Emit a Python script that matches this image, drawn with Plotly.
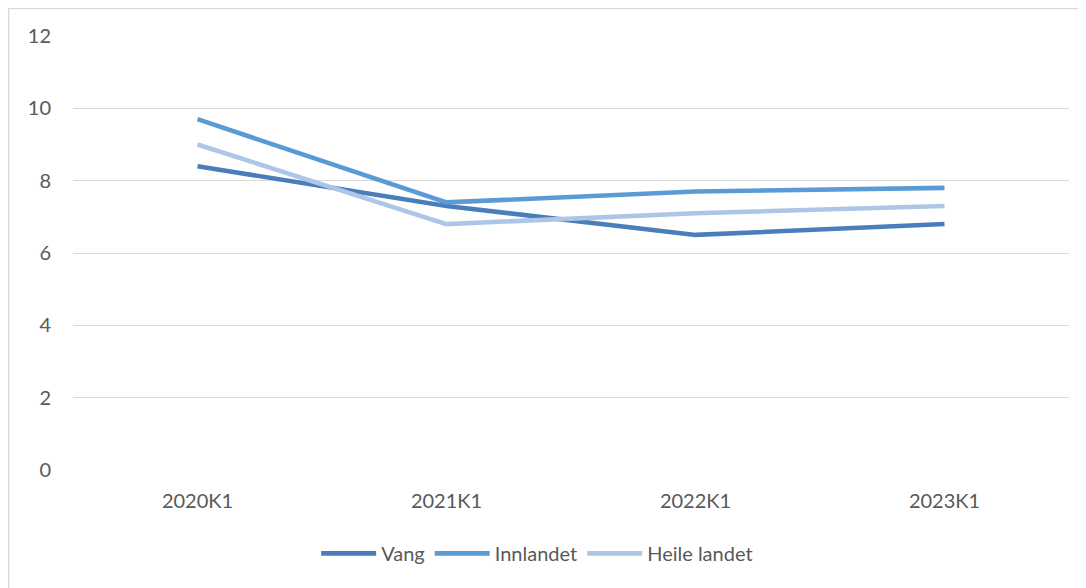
import plotly.graph_objects as go

categories = ["2020K1", "2021K1", "2022K1", "2023K1"]
vang = [8.4, 7.3, 6.5, 6.8]
innlandet = [9.7, 7.4, 7.7, 7.8]
heile_landet = [9.0, 6.8, 7.1, 7.3]

series_names = ["Vang", "Innlandet", "Heile landet"]
series_values = [vang, innlandet, heile_landet]
series_colors = ["#4A7EBB", "#5B9BD5", "#ADC6E7"]

y_ticks = [0, 2, 4, 6, 8, 10, 12]

FONT = "Lato"
TXT = "#595959"

fig = go.Figure()
for name, vals, col in zip(series_names, series_values, series_colors):
    fig.add_trace(go.Scatter(
        x=categories, y=vals, name=name, mode="lines",
        line=dict(color=col, width=4.6),
    ))

fig.update_layout(
    width=1086, height=588,
    paper_bgcolor="white", plot_bgcolor="white",
    margin=dict(l=65, r=25, t=28, b=126, autoexpand=False),
    font=dict(family=FONT, size=20, color=TXT),
    showlegend=True,
    legend=dict(
        orientation="h", x=0.466, xanchor="center", y=-0.192, yanchor="middle",
        font=dict(family=FONT, size=20, color=TXT),
        bgcolor="rgba(0,0,0,0)", itemwidth=55,
    ),
    xaxis=dict(
        type="category", range=[-0.5, 3.5],
        showgrid=False, zeroline=False, showline=False,
        ticks="outside", ticklen=13, tickcolor="rgba(0,0,0,0)",
        tickfont=dict(family=FONT, size=20, color=TXT),
    ),
    yaxis=dict(
        range=[0, 12], tickvals=y_ticks,
        showgrid=True, gridcolor="#D9D9D9", gridwidth=1.3,
        zeroline=False, showline=False,
        ticks="outside", ticklen=17, tickcolor="rgba(0,0,0,0)",
        tickfont=dict(family=FONT, size=20, color=TXT),
    ),
    shapes=[dict(
        type="rect", xref="paper", yref="paper",
        x0=-0.0646, x1=1.3, y0=-0.7, y1=1.0629,
        line=dict(color="#D9D9D9", width=1.3), layer="below",
    )],
)

fig.write_html("out.html")
